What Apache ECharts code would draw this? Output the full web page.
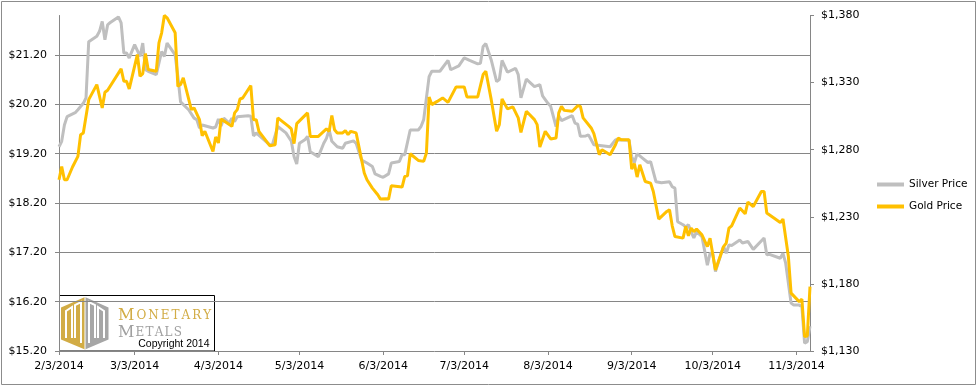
<!DOCTYPE html>
<html><head><meta charset="utf-8">
<script src="https://cdn.jsdelivr.net/npm/echarts@6/dist/echarts.min.js"></script>
<style>html,body{margin:0;padding:0;background:#fff}#c{width:978px;height:387px}</style>
</head><body><div id="c"></div>
<script>
// ---- data (dates are 2014, M/D) ----
const silverDates = ['2/3','2/4','2/5','2/6','2/9','2/10','2/12','2/13','2/14','2/17','2/18','2/19','2/20','2/21','2/22','2/25','2/26','2/27','2/28','3/1','3/3','3/5','3/6','3/7','3/8','3/11','3/13','3/14','3/15','3/18','3/19','3/20','3/23','3/25','3/26','3/27','3/28','4/1','4/2','4/3','4/4','4/5','4/7','4/8','4/9','4/10','4/14','4/15','4/16','4/17','4/22','4/23','4/25','4/28','4/30','5/1','5/2','5/3','5/5','5/6','5/7','5/10','5/12','5/13','5/14','5/15','5/17','5/19','5/20','5/23','5/24','5/26','5/28','5/30','5/31','6/2','6/3','6/5','6/6','6/9','6/10','6/11','6/13','6/16','6/17','6/18','6/20','6/21','6/24','6/27','6/28','7/1','7/3','7/5','7/8','7/9','7/10','7/11','7/13','7/15','7/16','7/17','7/19','7/22','7/23','7/24','7/26','7/29','7/31','8/1','8/3','8/4','8/6','8/7','8/8','8/12','8/13','8/14','8/15','8/17','8/18','8/20','8/26','8/28','9/2','9/3','9/4','9/5','9/7','9/9','9/10','9/12','9/14','9/17','9/18','9/19','9/20','9/22','9/23','9/24','9/25','9/26','9/27','9/29','10/1','10/2','10/3','10/4','10/7','10/8','10/9','10/10','10/13','10/14','10/16','10/18','10/22','10/23','10/24','10/28','10/29','10/30','11/1','11/2','11/4','11/5','11/6','11/7','11/8'];
const silverPrice = [19.34,19.45,19.78,19.95,20.03,20.09,20.22,20.33,21.47,21.58,21.68,21.88,21.51,21.81,21.86,21.97,21.85,21.24,21.24,21.14,21.41,21.17,21.44,20.90,20.87,20.80,21.27,21.17,21.44,21.20,20.76,20.25,20.09,19.92,19.89,19.72,19.78,19.72,19.74,19.90,19.76,19.92,19.82,19.92,19.85,19.95,19.97,19.96,19.56,19.62,19.38,19.38,19.75,19.62,19.45,19.14,18.99,19.41,19.48,19.55,19.24,19.14,19.41,19.51,19.68,19.45,19.34,19.31,19.41,19.46,19.41,19.07,19.01,18.94,18.79,18.74,18.72,18.79,19.01,19.04,19.18,19.18,19.68,19.68,19.75,19.89,20.76,20.87,20.87,21.09,20.90,20.98,21.14,21.09,21.02,21.03,21.37,21.43,21.10,20.66,20.70,21.09,20.85,20.93,20.80,20.33,20.71,20.56,20.60,20.37,20.22,20.16,19.75,19.97,19.87,19.97,19.82,19.80,19.55,19.56,19.58,19.38,19.34,19.48,19.47,19.14,19.02,19.20,19.11,19.02,19.04,18.63,18.61,18.63,18.53,18.50,17.82,17.76,17.71,17.76,17.62,17.49,17.62,17.52,16.94,17.18,17.17,16.81,17.32,17.18,17.35,17.34,17.45,17.39,17.42,17.26,17.49,17.15,17.16,17.08,17.18,16.98,16.17,16.13,16.13,16.10,15.36,15.39,15.70];
const goldDates = ['2/3','2/4','2/5','2/6','2/8','2/10','2/11','2/12','2/14','2/17','2/19','2/20','2/21','2/26','2/27','2/28','3/1','3/4','3/5','3/6','3/7','3/8','3/11','3/12','3/13','3/14','3/15','3/18','3/19','3/20','3/21','3/24','3/25','3/27','3/28','3/29','4/1','4/2','4/3','4/4','4/8','4/9','4/10','4/11','4/12','4/15','4/16','4/17','4/18','4/22','4/24','4/25','4/29','4/30','5/1','5/2','5/6','5/7','5/10','5/13','5/14','5/15','5/16','5/17','5/19','5/20','5/21','5/22','5/24','5/27','5/28','5/30','6/1','6/2','6/4','6/5','6/6','6/10','6/11','6/12','6/13','6/16','6/18','6/19','6/20','6/21','6/23','6/25','6/27','6/30','7/3','7/4','7/8','7/10','7/11','7/13','7/15','7/16','7/17','7/19','7/21','7/23','7/24','7/26','7/29','7/30','7/31','8/2','8/4','8/6','8/7','8/8','8/9','8/12','8/14','8/15','8/16','8/19','8/20','8/22','8/23','8/26','8/28','8/29','8/30','9/2','9/3','9/4','9/5','9/6','9/8','9/10','9/11','9/13','9/16','9/17','9/18','9/19','9/22','9/23','9/24','9/25','9/26','9/27','9/29','10/1','10/2','10/4','10/7','10/8','10/9','10/10','10/13','10/15','10/16','10/18','10/21','10/22','10/23','10/28','10/29','10/31','11/1','11/4','11/5','11/6','11/7','11/8'];
const goldPrice = [1257.6,1267.5,1257.6,1257.6,1267.1,1275,1291.2,1292.5,1317.3,1328.5,1311.1,1322.8,1324.3,1340.2,1331,1331,1325.3,1350.9,1334.7,1336.7,1351.6,1339.7,1338.4,1359.6,1367.1,1380,1378.3,1367.1,1327.2,1328.5,1333.5,1309.9,1311.1,1302.4,1290.4,1293.7,1278.7,1289.5,1285,1302.9,1297.4,1307.4,1309.9,1317.8,1318.5,1327.8,1302.4,1302.4,1293.7,1283,1283.7,1303.7,1297.4,1295.5,1284.5,1299.4,1307.4,1289.9,1289.9,1295.5,1293.7,1305.4,1294.9,1292.5,1292.5,1294.2,1291.2,1293.7,1292.5,1262.6,1257.6,1251.4,1246.4,1243.2,1243.5,1243.2,1253.1,1252.2,1260.1,1260.6,1277,1272,1271.3,1277.5,1319.3,1313.6,1316,1318.6,1315.3,1326.8,1326.8,1319.3,1319.3,1336,1338.4,1317.3,1293.7,1298.7,1317.8,1310.4,1311.9,1303.7,1292.9,1308.6,1302.4,1298.7,1282,1293.7,1288,1288.7,1307.4,1312.3,1309.3,1308.6,1312.8,1312.3,1303.7,1296.2,1292,1276.3,1280,1276.3,1283.7,1288.7,1287.5,1287.5,1265.6,1269.6,1259.6,1268.8,1256.3,1255.1,1248.9,1228.3,1234,1235.2,1223.3,1215.3,1214.1,1222.8,1215.8,1221.6,1219,1220.8,1216.6,1207.8,1214.1,1190.4,1207.8,1210.4,1221.6,1223.3,1236.5,1232.2,1241,1237.7,1248.9,1248.9,1232.8,1225.7,1228.3,1200.4,1173.1,1166.8,1168.6,1140.7,1141.2,1178];
const xTickLabels = ['2/3/2014','3/3/2014','4/3/2014','5/3/2014','6/3/2014','7/3/2014','8/3/2014','9/3/2014','10/3/2014','11/3/2014'];
const xEndDate = '11/8/2014';
const silverAxis = {min: 15.2, max: 22.0, step: 1};
const goldAxis = {min: 1130, max: 1380, step: 50};
const seriesNames = ['Silver Price', 'Gold Price'];
const logoWords = ['MONETARY', 'METALS'];
const copyrightText = 'Copyright 2014';

// ---- helpers ----
const START = Date.UTC(2014, 1, 3);
function dayOf(s) {
  const p = s.split('/').map(Number);
  const y = p[2] || 2014;
  return Math.round((Date.UTC(y, p[0] - 1, p[1]) - START) / 864e5);
}
const xTickDays = xTickLabels.map(dayOf);
const silverData = silverDates.map((d, i) => [dayOf(d), silverPrice[i]]);
const goldData = goldDates.map((d, i) => [dayOf(d), goldPrice[i]]);

// small-caps word with extra tracking, as rich text
function smallCaps(word) {
  return '{a|' + word[0] + '}' + word.slice(1).split('').map(c => '{b|' + c + '}').join('');
}
function capsRich(color, track) {
  const f = '"DejaVu Serif", serif';
  return {
    a: {fontFamily: f, fontSize: 16, fill: color, padding: [0, track, 0, 0]},
    b: {fontFamily: f, fontSize: 12, fill: color, padding: [0, track, 0, 0]}
  };
}

const AX = '#868686';
const LBL = {color: '#000', fontFamily: 'Tahoma, "DejaVu Sans", sans-serif', fontSize: 11};

const chart = echarts.init(document.getElementById('c'), null, {renderer: 'canvas'});
chart.setOption({
  animation: false,
  backgroundColor: '#fff',
  grid: {left: 59, right: 168, top: 15.5, bottom: 36, containLabel: false},
  legend: {
    data: seriesNames, orient: 'vertical', left: 872, top: 174,
    itemWidth: 27, itemHeight: 4, itemGap: 11, icon: 'rect',
    textStyle: {color: '#000', fontFamily: 'Tahoma, "DejaVu Sans", sans-serif', fontSize: 10.5}
  },
  xAxis: {
    type: 'value', min: 0, max: dayOf(xEndDate),
    axisLine: {show: true, lineStyle: {color: AX, width: 1}},
    axisTick: {show: true, length: 4, customValues: xTickDays, lineStyle: {color: AX}},
    axisLabel: Object.assign({customValues: xTickDays, margin: 10,
      formatter: v => xTickLabels[xTickDays.indexOf(Math.round(v))] || ''}, LBL),
    splitLine: {show: false}
  },
  yAxis: [{
    type: 'value', position: 'left', min: silverAxis.min, max: silverAxis.max, interval: silverAxis.step,
    axisLine: {show: true, lineStyle: {color: AX, width: 1}},
    axisTick: {show: true, length: 4, lineStyle: {color: AX}},
    axisLabel: Object.assign({margin: 12, showMaxLabel: false,
      formatter: v => (v > silverAxis.max - 0.5 ? '' : '$' + v.toFixed(2))}, LBL),
    splitLine: {show: true, showMinLine: false, showMaxLine: false, lineStyle: {color: AX, width: 1}}
  }, {
    type: 'value', position: 'right', min: goldAxis.min, max: goldAxis.max, interval: goldAxis.step,
    axisLine: {show: true, lineStyle: {color: AX, width: 1}},
    axisTick: {show: true, length: 4, lineStyle: {color: AX}},
    axisLabel: Object.assign({margin: 11,
      formatter: v => '$' + Math.round(v).toLocaleString('en-US')}, LBL),
    splitLine: {show: false}
  }],
  series: [{
    name: seriesNames[0], type: 'line', yAxisIndex: 0, data: silverData,
    symbol: 'none', lineStyle: {color: '#BFBFBF', width: 3}, itemStyle: {color: '#BFBFBF'}, z: 2
  }, {
    name: seriesNames[1], type: 'line', yAxisIndex: 1, data: goldData,
    symbol: 'none', lineStyle: {color: '#FFC000', width: 3}, itemStyle: {color: '#FFC000'}, z: 3
  }],
  graphic: {elements: [
    {type: 'rect', shape: {x: 1.5, y: 1.5, width: 974, height: 383}, style: {fill: 'none', stroke: '#8c8c8c', lineWidth: 1}, z: 0, silent: true},
    {type: 'group', z: 100, silent: true, children: [
      {type: 'rect', shape: {x: 59.5, y: 295.5, width: 155, height: 55.5}, style: {fill: '#fff', stroke: '#000', lineWidth: 1}},
      {type: 'polygon', shape: {points: [[85, 297], [61, 307.5], [61, 339.5], [85, 349.5]]}, style: {fill: '#D2AC45'}},
      {type: 'polygon', shape: {points: [[85, 297], [108.5, 307.5], [108.5, 339.5], [85, 349.5]]}, style: {fill: '#A6A6A6'}},
      {type: 'polyline', shape: {points: [[66, 338], [66, 311], [72, 307], [72, 338]]}, style: {stroke: '#fff', lineWidth: 2, fill: null}},
      {type: 'polyline', shape: {points: [[75, 338], [75, 305], [81, 302], [81, 343]]}, style: {stroke: '#fff', lineWidth: 2, fill: null}},
      {type: 'polyline', shape: {points: [[89, 343], [89, 302], [95, 305], [95, 338]]}, style: {stroke: '#fff', lineWidth: 2, fill: null}},
      {type: 'polyline', shape: {points: [[98, 338], [98, 307], [104, 311], [104, 338]]}, style: {stroke: '#fff', lineWidth: 2, fill: null}},
      {type: 'line', shape: {x1: 85, y1: 297, x2: 85, y2: 349.5}, style: {stroke: '#fff', lineWidth: 1}},
      {type: 'text', x: 118, y: 324, style: {text: smallCaps(logoWords[0]), verticalAlign: 'bottom', rich: capsRich('#D2AC45', 2)}},
      {type: 'text', x: 118, y: 340.5, style: {text: smallCaps(logoWords[1]), verticalAlign: 'bottom', rich: capsRich('#A0A0A0', 1.2)}},
      {type: 'text', x: 209.5, y: 344.5, style: {text: copyrightText, align: 'right', verticalAlign: 'middle',
        fontFamily: '"Liberation Sans", Arial, sans-serif', fontSize: 10.5, fill: '#000'}}
    ]}
  ]}
});
</script>
</body></html>
